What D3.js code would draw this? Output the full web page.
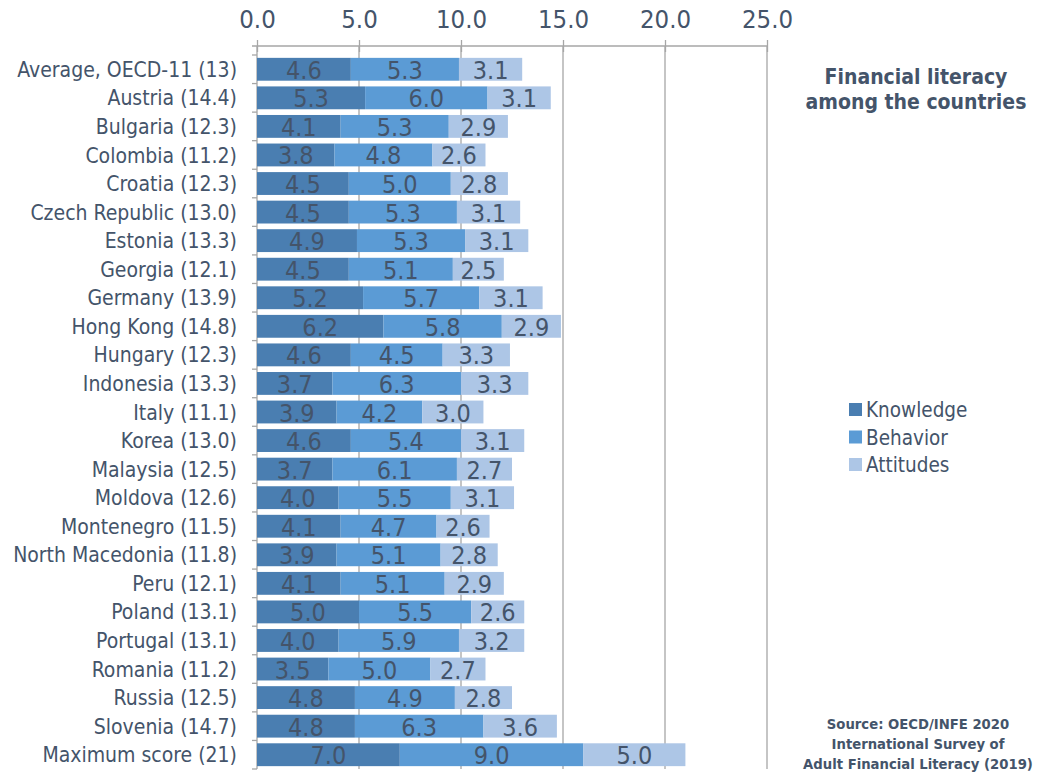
<!DOCTYPE html>
<html><head><meta charset="utf-8">
<script src="https://cdn.jsdelivr.net/npm/d3@7"></script>
<style>body{margin:0;background:#fff}svg{display:block}</style>
</head><body><svg id="c" width="1056" height="774"></svg>
<script>
const categories = ["Average, OECD-11 (13)","Austria (14.4)","Bulgaria (12.3)","Colombia (11.2)","Croatia (12.3)","Czech Republic (13.0)","Estonia (13.3)","Georgia (12.1)","Germany (13.9)","Hong Kong (14.8)","Hungary (12.3)","Indonesia (13.3)","Italy (11.1)","Korea (13.0)","Malaysia (12.5)","Moldova (12.6)","Montenegro (11.5)","North Macedonia (11.8)","Peru (12.1)","Poland (13.1)","Portugal (13.1)","Romania (11.2)","Russia (12.5)","Slovenia (14.7)","Maximum score (21)"];
const knowledge = [4.6,5.3,4.1,3.8,4.5,4.5,4.9,4.5,5.2,6.2,4.6,3.7,3.9,4.6,3.7,4.0,4.1,3.9,4.1,5.0,4.0,3.5,4.8,4.8,7.0];
const behavior  = [5.3,6.0,5.3,4.8,5.0,5.3,5.3,5.1,5.7,5.8,4.5,6.3,4.2,5.4,6.1,5.5,4.7,5.1,5.1,5.5,5.9,5.0,4.9,6.3,9.0];
const attitudes = [3.1,3.1,2.9,2.6,2.8,3.1,3.1,2.5,3.1,2.9,3.3,3.3,3.0,3.1,2.7,3.1,2.6,2.8,2.9,2.6,3.2,2.7,2.8,3.6,5.0];
const seriesNames = ["Knowledge","Behavior","Attitudes"];
const colors = ["#4a7eb1","#5b9bd5","#adc6e6"];
const tickValues = [0,5,10,15,20,25];

const txt = "#44546a";
const font = "Tahoma, 'DejaVu Sans Condensed', 'DejaVu Sans', sans-serif";
const svg = d3.select("#c");
const x = d3.scaleLinear().domain([0,25]).range([257,767]);
const y = d3.scaleBand().domain(categories).range([55,769]).paddingInner(0.2).paddingOuter(0.1);

// gridlines
svg.append("g").selectAll("line").data(tickValues.slice(1)).join("line")
  .attr("x1",d=>x(d)).attr("x2",d=>x(d)).attr("y1",46).attr("y2",769)
  .attr("stroke","#a6a6a6").attr("stroke-width",1.3);

// top axis
const xa = svg.append("g").attr("transform","translate(0,46)")
  .call(d3.axisTop(x).tickValues(tickValues).tickFormat(d3.format(".1f")).tickSize(6).tickPadding(12));
xa.select(".domain").attr("stroke","#a6a6a6").attr("stroke-width",1.3).attr("d","M"+(x(0)-5)+",0H"+x(25));
xa.selectAll(".tick line").attr("stroke","#a6a6a6").attr("stroke-width",1.3).attr("y1",6).attr("y2",-6);
xa.selectAll(".tick text").attr("fill",txt).attr("font-size",25.5).attr("font-family",font);

// left axis line and ticks at band boundaries
svg.append("line").attr("x1",x(0)).attr("x2",x(0)).attr("y1",46).attr("y2",769).attr("stroke","#a6a6a6").attr("stroke-width",1.3);
const step = y.step();
const bounds = d3.range(categories.length+1).map(i=>y(categories[0]) - (step-y.bandwidth())/2 + i*step);
svg.append("g").selectAll("line").data(bounds).join("line")
  .attr("x1",x(0)-5).attr("x2",x(0)).attr("y1",d=>d).attr("y2",d=>d)
  .attr("stroke","#a6a6a6").attr("stroke-width",1.3);

// category labels
svg.append("g").selectAll("text").data(categories).join("text")
  .attr("x",237).attr("y",d=>y(d)+y.bandwidth()/2).attr("dy","0.36em")
  .attr("text-anchor","end").attr("fill",txt).attr("font-size",21).attr("font-family",font)
  .text(d=>d);

// stacked bars
const rows = categories.map((c,i)=>({cat:c, Knowledge:knowledge[i], Behavior:behavior[i], Attitudes:attitudes[i]}));
const stack = d3.stack().keys(seriesNames)(rows);
const g = svg.append("g");
stack.forEach((s,si)=>{
  g.append("g").selectAll("rect").data(s).join("rect")
    .attr("x",d=>x(d[0])).attr("width",d=>x(d[1])-x(d[0]))
    .attr("y",d=>y(d.data.cat)).attr("height",y.bandwidth())
    .attr("fill",colors[si]);
});
stack.forEach((s,si)=>{
  g.append("g").selectAll("text").data(s).join("text")
    .attr("x",d=>(x(d[0])+x(d[1]))/2).attr("y",d=>y(d.data.cat)+y.bandwidth()/2).attr("dy","0.38em")
    .attr("text-anchor","middle").attr("fill",txt).attr("font-size",25).attr("font-family",font)
    .text(d=>d3.format(".1f")(d[1]-d[0]));
});

// title
svg.append("text").attr("x",916).attr("text-anchor","middle").attr("fill",txt)
  .attr("font-size",21).attr("font-weight","bold").attr("font-family",font)
  .selectAll("tspan").data(["Financial literacy","among the countries"]).join("tspan")
  .attr("x",916).attr("y",(d,i)=>84+i*25).text(d=>d);

// legend
const lg = svg.append("g");
seriesNames.forEach((n,i)=>{
  lg.append("rect").attr("x",849).attr("y",403+i*27.5).attr("width",13).attr("height",13).attr("fill",colors[i]);
  lg.append("text").attr("x",866).attr("y",410+i*27.5).attr("dy","0.36em").attr("fill",txt)
    .attr("font-size",20.5).attr("font-family",font).text(n);
});

// source
svg.append("text").attr("text-anchor","middle").attr("fill",txt)
  .attr("font-size",14.7).attr("font-weight","bold").attr("font-family",font)
  .selectAll("tspan").data(["Source: OECD/INFE 2020","International Survey of","Adult Financial Literacy (2019)"]).join("tspan")
  .attr("x",918).attr("y",(d,i)=>729+i*20).text(d=>d);
</script></body></html>
